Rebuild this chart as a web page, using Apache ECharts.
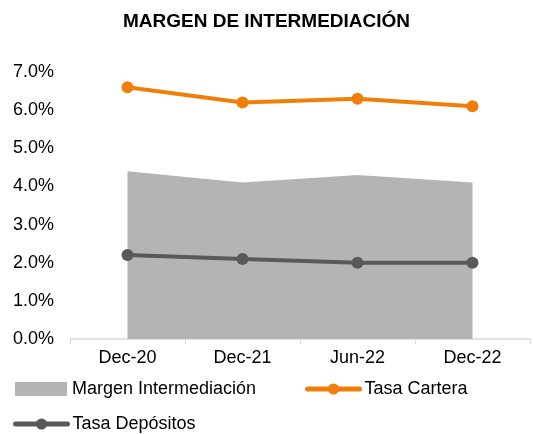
<!DOCTYPE html>
<html>
<head>
<meta charset="utf-8">
<script src="https://cdn.jsdelivr.net/npm/echarts@6/dist/echarts.min.js"></script>
<style>
  html, body { margin: 0; padding: 0; background: #fff; }
  #chart { width: 533px; height: 434px; }
</style>
</head>
<body>
<div id="chart"></div>
<script>
// datos del gráfico
const categorias = ["Dec-20", "Dec-21", "Jun-22", "Dec-22"];
const margenIntermediacion = [4.4, 4.1, 4.3, 4.1];
const tasaCartera = [6.6, 6.2, 6.3, 6.1];
const tasaDepositos = [2.2, 2.1, 2.0, 2.0];

const fuente = "Liberation Sans, Arial, sans-serif";
const chart = echarts.init(document.getElementById("chart"));

const leyenda = (nombre, left, top, icono) => ({
  data: [icono ? { name: nombre, icon: icono } : nombre],
  left: left,
  top: top,
  itemWidth: 52,
  itemHeight: 14,
  itemGap: 0,
  lineStyle: { width: 5, cap: "round" },
  textStyle: { fontFamily: fuente, fontSize: 18, color: "#000" },
});

chart.setOption({
  animation: false,
  title: {
    text: "MARGEN DE INTERMEDIACIÓN",
    left: "center",
    top: 7,
    textStyle: { fontFamily: fuente, fontSize: 19, fontWeight: "bold", color: "#000" },
  },
  grid: { left: 70, right: 3, top: 72, bottom: 95 },
  legend: [
    leyenda("Margen Intermediación", 10, 375, "rect"),
    leyenda("Tasa Cartera", 300, 375),
    leyenda("Tasa Depósitos", 8, 410),
  ],
  xAxis: {
    type: "category",
    data: categorias,
    boundaryGap: true,
    axisLine: { lineStyle: { color: "#d9d9d9", width: 1.5 } },
    axisTick: { show: true, length: 5, lineStyle: { color: "#d9d9d9" } },
    axisLabel: { fontFamily: fuente, fontSize: 18, color: "#000", margin: 10 },
  },
  yAxis: {
    type: "value",
    min: 0,
    max: 7,
    interval: 1,
    splitLine: { show: false },
    axisLine: { show: false },
    axisTick: { show: false },
    axisLabel: {
      fontFamily: fuente,
      fontSize: 18,
      color: "#000",
      margin: 16,
      formatter: (v) => v.toFixed(1) + "%",
    },
  },
  series: [
    {
      name: "Margen Intermediación",
      type: "line",
      data: margenIntermediacion,
      symbol: "none",
      lineStyle: { width: 0, color: "#b4b4b4" },
      itemStyle: { color: "#b4b4b4" },
      areaStyle: { color: "#b4b4b4", opacity: 1 },
      z: 1,
    },
    {
      name: "Tasa Cartera",
      type: "line",
      data: tasaCartera,
      symbol: "circle",
      symbolSize: 12,
      lineStyle: { width: 4, color: "#f07f09" },
      itemStyle: { color: "#f07f09" },
      z: 3,
    },
    {
      name: "Tasa Depósitos",
      type: "line",
      data: tasaDepositos,
      symbol: "circle",
      symbolSize: 12,
      lineStyle: { width: 4, color: "#595959" },
      itemStyle: { color: "#595959" },
      z: 3,
    },
  ],
});
</script>
</body>
</html>
